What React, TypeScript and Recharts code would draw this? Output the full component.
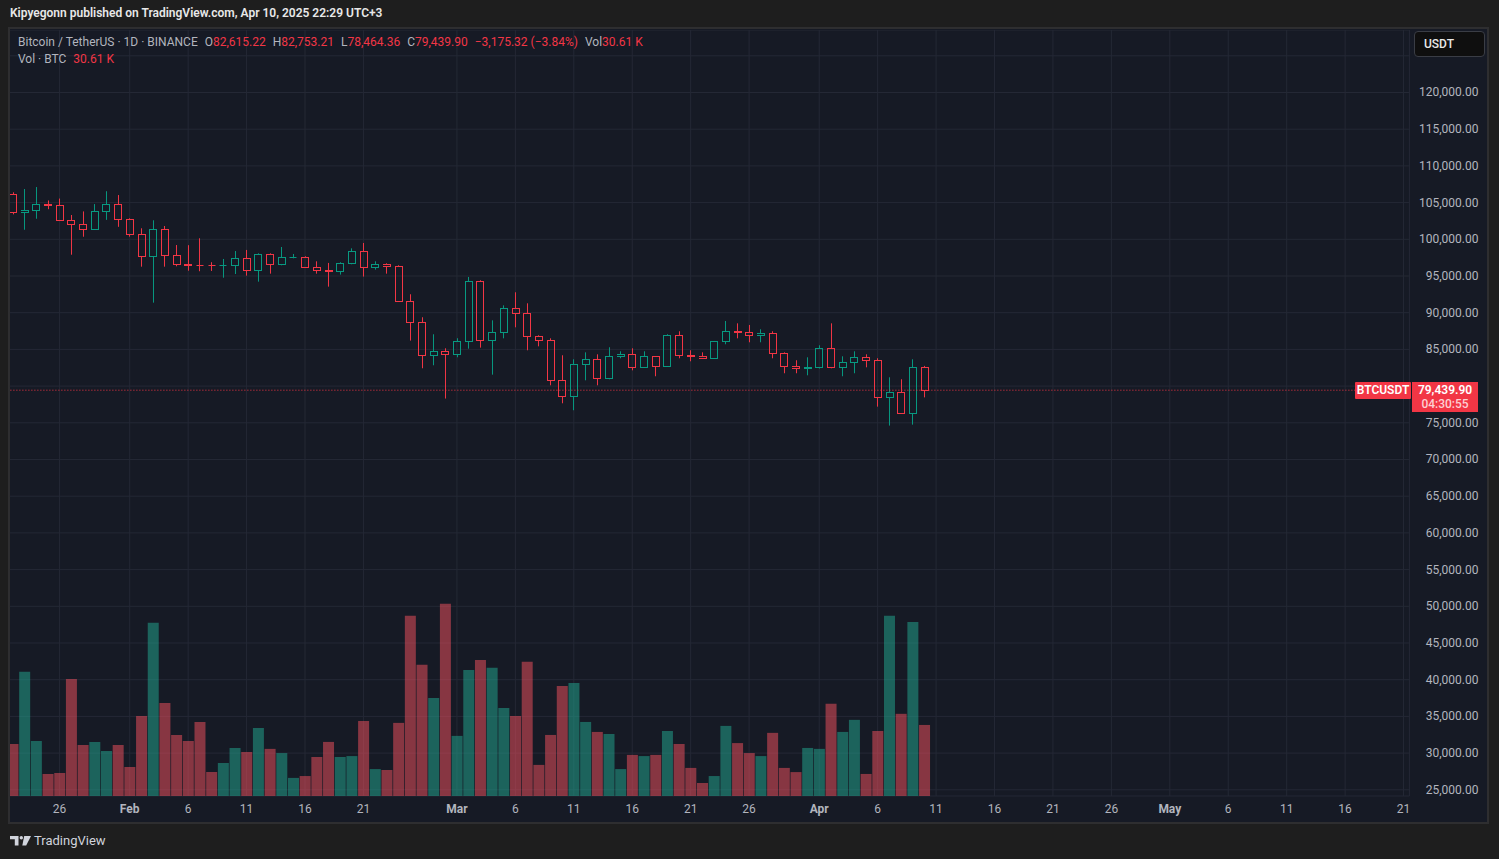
import { ComposedChart, Bar, Cell, XAxis, YAxis, CartesianGrid, ReferenceLine } from "recharts";

const UP = "#089981";
const DOWN = "#f23645";
const BG = "#161a25";
const AXIS_TEXT = "#b2b5be";
const FONT = "Roboto, 'Noto Sans', sans-serif";

// one daily candle per entry, Jan 22 2025 -> Apr 10 2025
const opens = [
  106130, 103680, 103950, 104850, 104720, 102600, 102060, 101360, 103800, 104760,
  102700, 100680, 97690, 101360, 97820, 96600, 96560, 96500, 96460, 96480,
  97410, 95780, 97950, 96600, 97550, 97570, 96190, 95780, 95700, 96730,
  98370, 96190, 96600, 96320, 91560, 88700, 84200, 84750, 84340, 86100,
  94280, 86240, 87330, 90600, 89920, 86780, 86240, 80790, 78610, 82970,
  83650, 81060, 84060, 84330, 82560, 84060, 82700, 86920, 84200, 84060,
  83790, 86100, 87470, 87400, 86920, 87190, 84470, 82700, 82430, 82560,
  85150, 82560, 83240, 83920, 83520, 78480, 79160, 76300, 82615.22,
];
const highs = [
  106400, 106850, 107120, 105290, 105550, 103310, 103800, 104800, 106550, 106030,
  102860, 101500, 102590, 101810, 99220, 99200, 100140, 96880, 97320, 98400,
  98550, 98090, 98090, 98950, 98000, 97690, 97000, 96780, 96870, 98770,
  99500, 97000, 96730, 96460, 92510, 89380, 87060, 85150, 86520, 94870,
  94420, 88960, 91000, 92780, 91280, 86920, 86510, 84200, 83650, 84600,
  84330, 85290, 84740, 85150, 84740, 84100, 87060, 87470, 84880, 84600,
  86150, 88870, 88550, 88330, 87740, 87470, 84600, 83520, 83920, 85560,
  88550, 84060, 84740, 84330, 83790, 81200, 80930, 83650, 82753.21,
];
const lows = [
  103400, 101300, 102800, 104100, 102550, 97900, 100350, 101300, 102650, 101700,
  100360, 96270, 91370, 96270, 96320, 95720, 95650, 95690, 94770, 95270,
  95050, 94230, 95320, 96460, 97410, 96100, 95320, 93550, 95190, 96600,
  94920, 95870, 95320, 91500, 86200, 82430, 82840, 78300, 83930, 85100,
  85240, 81560, 86510, 88010, 84880, 85420, 80110, 77660, 76710, 80790,
  80110, 80930, 83790, 82150, 82480, 81340, 82600, 83790, 83380, 83700,
  83700, 85700, 86510, 85970, 85970, 83790, 81750, 81750, 81470, 82400,
  82430, 81340, 81750, 82560, 77200, 74620, 76200, 74750, 78464.36,
];
const closes = [
  103680, 103950, 104850, 104720, 102600, 102060, 101360, 103800, 104760, 102700,
  100680, 97690, 101360, 97820, 96600, 96560, 96500, 96460, 96480, 97410,
  95780, 97950, 96600, 97550, 97570, 96190, 95780, 95700, 96730, 98370,
  96190, 96600, 96320, 91560, 88700, 84200, 84750, 84340, 86100, 94280,
  86240, 87330, 90600, 89920, 86780, 86240, 80790, 78610, 82970, 83650,
  81060, 84060, 84330, 82560, 84060, 82700, 86920, 84200, 84060, 83790,
  86100, 87470, 87400, 86920, 87190, 84470, 82700, 82430, 82560, 85150,
  82560, 83240, 83920, 83520, 78480, 79160, 76300, 82615.22, 79439.9,
];
// volume in thousands of BTC
const volumes = [
  22.4, 53.5, 23.7, 9.5, 9.9, 50.4, 22.0, 23.3, 19.4, 22.0,
  12.5, 34.5, 74.6, 40.1, 26.3, 23.7, 31.9, 10.3, 14.2, 20.7,
  19.0, 29.3, 20.3, 18.5, 7.8, 8.6, 16.8, 23.3, 16.8, 17.2,
  32.3, 11.6, 11.2, 31.5, 77.6, 56.5, 42.2, 82.8, 25.9, 54.3,
  58.6, 55.2, 37.9, 34.5, 57.8, 13.4, 26.3, 47.4, 48.7, 31.9,
  27.6, 26.7, 11.6, 17.7, 17.2, 17.7, 28.0, 22.4, 12.1, 5.6,
  8.6, 30.2, 22.8, 18.5, 17.2, 27.2, 12.1, 10.3, 20.7, 20.3,
  39.7, 27.6, 32.8, 9.5, 28.0, 77.6, 35.4, 75.0, 30.61,
];

// time scale runs past the last candle up to May 21
const days = Array.from({ length: 120 }, (_, i) =>
  new Date(Date.UTC(2025, 0, 22 + i)).toISOString().slice(0, 10)
);

const timeTicks = [
  "2025-01-26", "2025-02-01", "2025-02-06", "2025-02-11", "2025-02-16", "2025-02-21",
  "2025-03-01", "2025-03-06", "2025-03-11", "2025-03-16", "2025-03-21", "2025-03-26",
  "2025-04-01", "2025-04-06", "2025-04-11", "2025-04-16", "2025-04-21", "2025-04-26",
  "2025-05-01", "2025-05-06", "2025-05-11", "2025-05-16", "2025-05-21",
];
const timeLabels = [
  "26", "Feb", "6", "11", "16", "21",
  "Mar", "6", "11", "16", "21", "26",
  "Apr", "6", "11", "16", "21", "26",
  "May", "6", "11", "16", "21",
];
const monthLabels = ["Feb", "Mar", "Apr", "May"];

const priceTicks = [
  25000, 30000, 35000, 40000, 45000, 50000, 55000, 60000, 65000, 70000,
  75000, 80000, 85000, 90000, 95000, 100000, 105000, 110000, 115000, 120000, 125000,
];
// labels hidden by the currency button and the last-price tag
const hiddenPriceLabels = [125000, 80000];

const lastPrice = 79439.9;

const data = days.map((day, i) => ({
  day,
  open: opens[i] ?? null,
  high: highs[i] ?? null,
  low: lows[i] ?? null,
  close: closes[i] ?? null,
  volume: volumes[i] ?? null,
}));

const fmtPrice = (v: number) =>
  v.toLocaleString("en-US", { minimumFractionDigits: 2, maximumFractionDigits: 2 });

function Candle(props: any) {
  const { x, y, width, height, payload } = props;
  if (payload == null || payload.high == null) return <g />;
  const { open, high, low, close } = payload;
  const top = Math.min(y, y + height);
  const k = Math.abs(height) / (high - low);
  const yOf = (p: number) => top + (high - p) * k;
  const color = close >= open ? UP : DOWN;
  const cx = Math.floor(x + width / 2) + 0.5;
  const left = Math.round(x) + 0.5;
  const bTop = Math.round(yOf(Math.max(open, close))) + 0.5;
  const bBot = Math.round(yOf(Math.min(open, close))) + 0.5;
  return (
    <g>
      <line x1={cx} x2={cx} y1={yOf(high)} y2={bTop} stroke={color} strokeWidth={1} />
      <line x1={cx} x2={cx} y1={bBot} y2={yOf(low)} stroke={color} strokeWidth={1} />
      {bBot - bTop < 1 ? (
        <line x1={left} x2={left + width - 1} y1={bTop} y2={bTop} stroke={color} strokeWidth={1} />
      ) : (
        <rect x={left} y={bTop} width={width - 1} height={bBot - bTop} fill="none" stroke={color} strokeWidth={1} />
      )}
    </g>
  );
}

function PriceTick(props: any) {
  const { x, y, payload } = props;
  if (hiddenPriceLabels.includes(payload.value)) return <g />;
  return (
    <text x={x + 69} y={y} dy={4} textAnchor="end" fill={AXIS_TEXT} fontSize={12} fontFamily={FONT}>
      {fmtPrice(payload.value)}
    </text>
  );
}

function TimeTick(props: any) {
  const { x, y, payload } = props;
  const label = timeLabels[timeTicks.indexOf(payload.value)] ?? "";
  const bold = monthLabels.includes(label);
  return (
    <text x={x} y={y} dy={17} textAnchor="middle" fill={AXIS_TEXT} fontSize={12}
      fontWeight={bold ? 700 : 400} fontFamily={FONT}>
      {label}
    </text>
  );
}

const CHART_W = 1480.4;
const CHART_H = 792;
const AXIS_W = 78;
const AXIS_H = 26;

function TvLogo() {
  return (
    <svg width={21} height={10} viewBox="0 0 21 10">
      <path d="M0 0H8.5V9.5H4.8V3.3H0Z" fill="#d1d4dc" />
      <circle cx={11.3} cy={1.7} r={1.7} fill="#d1d4dc" />
      <path d="M14.2 0H21L16.2 9.5H12.3Z" fill="#d1d4dc" />
    </svg>
  );
}

export default function App() {
  return (
    <div style={{ position: "absolute", left: 0, top: 0, width: 1499, height: 859, background: "#1e1e1e", overflow: "hidden", fontFamily: FONT }}>
      <div style={{ position: "absolute", left: 10, top: 6, fontSize: 12, fontWeight: 600, color: "#e8e8e8", whiteSpace: "nowrap" }}>
        Kipyegonn published on TradingView.com, Apr 10, 2025 22:29 UTC+3
      </div>

      <div style={{ position: "absolute", left: 8, top: 27, width: 1481, height: 797, boxSizing: "border-box", border: "2px solid #2e2e30", background: BG }} />

      {/* candles, grid and axes */}
      <div style={{ position: "absolute", left: 7.4, top: 30, width: CHART_W, height: CHART_H, clipPath: "inset(0 0 0 2.6px)" }}>
        <ComposedChart width={CHART_W} height={CHART_H} data={data} margin={{ top: 0, right: 0, bottom: 0, left: 0 }}>
          <CartesianGrid stroke="#242835" strokeWidth={1} />
          <XAxis dataKey="day" ticks={timeTicks} interval={0} height={AXIS_H} tickSize={0} tickMargin={0}
            axisLine={false} tick={<TimeTick />} />
          <YAxis orientation="right" width={AXIS_W} domain={[24155, 128515]} allowDataOverflow type="number"
            ticks={priceTicks} interval={0} tickSize={0} tickMargin={0} axisLine={false} tick={<PriceTick />} />
          <ReferenceLine y={lastPrice} stroke={DOWN} strokeDasharray="1 2" strokeWidth={1} />
          <Bar dataKey={(d: any) => (d.low == null ? null : [d.low, d.high])} barSize={8}
            shape={<Candle />} isAnimationActive={false} />
        </ComposedChart>
      </div>

      {/* volume pane overlay */}
      <div style={{ position: "absolute", left: 7.4, top: 30, width: CHART_W, height: CHART_H, clipPath: "inset(0 0 0 2.6px)", pointerEvents: "none" }}>
        <ComposedChart width={CHART_W} height={CHART_H} data={data} barCategoryGap={0.5}
          margin={{ top: 0, right: AXIS_W, bottom: AXIS_H, left: 0 }}>
          <XAxis dataKey="day" hide />
          <YAxis hide domain={[0, 330]} allowDataOverflow type="number" />
          <Bar dataKey="volume" isAnimationActive={false}>
            {data.map((d, i) => (
              <Cell key={i} fill={d.close != null && d.close >= d.open ? "#22ab94" : "#f7525f"} fillOpacity={0.5} />
            ))}
          </Bar>
        </ComposedChart>
      </div>

      {/* legend */}
      <div style={{ position: "absolute", left: 18, top: 34, fontSize: 12, lineHeight: "16px", color: AXIS_TEXT, whiteSpace: "nowrap" }}>
        <div>
          <span>Bitcoin / TetherUS · 1D · BINANCE</span>
          <span style={{ marginLeft: 7 }}>O</span><span style={{ color: DOWN }}>{fmtPrice(opens[78])}</span>
          <span style={{ marginLeft: 7 }}>H</span><span style={{ color: DOWN }}>{fmtPrice(highs[78])}</span>
          <span style={{ marginLeft: 7 }}>L</span><span style={{ color: DOWN }}>{fmtPrice(lows[78])}</span>
          <span style={{ marginLeft: 7 }}>C</span><span style={{ color: DOWN }}>{fmtPrice(closes[78])}</span>
          <span style={{ marginLeft: 7, color: DOWN }}>−3,175.32 (−3.84%)</span>
          <span style={{ marginLeft: 7 }}>Vol</span><span style={{ color: DOWN }}>30.61 K</span>
        </div>
        <div style={{ marginTop: 1 }}>
          <span>Vol · BTC</span>
          <span style={{ marginLeft: 7, color: DOWN }}>30.61 K</span>
        </div>
      </div>

      {/* currency button */}
      <div style={{ position: "absolute", left: 1414, top: 31, width: 71, height: 26, boxSizing: "border-box", border: "1px solid #3a3d45", borderRadius: 4, background: "#0f0f0f", color: "#e8e8e8", fontSize: 12, lineHeight: "24px", paddingLeft: 9, fontWeight: 500 }}>
        USDT
      </div>

      {/* last price labels */}
      <div style={{ position: "absolute", left: 1355, top: 382, width: 56, height: 17, background: DOWN, color: "#ffffff", fontSize: 12, fontWeight: 600, lineHeight: "17px", textAlign: "center", borderRadius: 1 }}>
        BTCUSDT
      </div>
      <div style={{ position: "absolute", left: 1412, top: 382, width: 66, height: 30, background: DOWN, color: "#ffffff", fontSize: 12, fontWeight: 600, lineHeight: "14px", paddingTop: 1, boxSizing: "border-box", textAlign: "center" }}>
        <div>{fmtPrice(lastPrice)}</div>
        <div style={{ color: "#fdd0d3", fontWeight: 500 }}>04:30:55</div>
      </div>

      {/* footer */}
      <div style={{ position: "absolute", left: 10, top: 833, display: "flex", alignItems: "center", gap: 3, color: "#d1d4dc", fontSize: 13 }}>
        <TvLogo />
        <span>TradingView</span>
      </div>
    </div>
  );
}
